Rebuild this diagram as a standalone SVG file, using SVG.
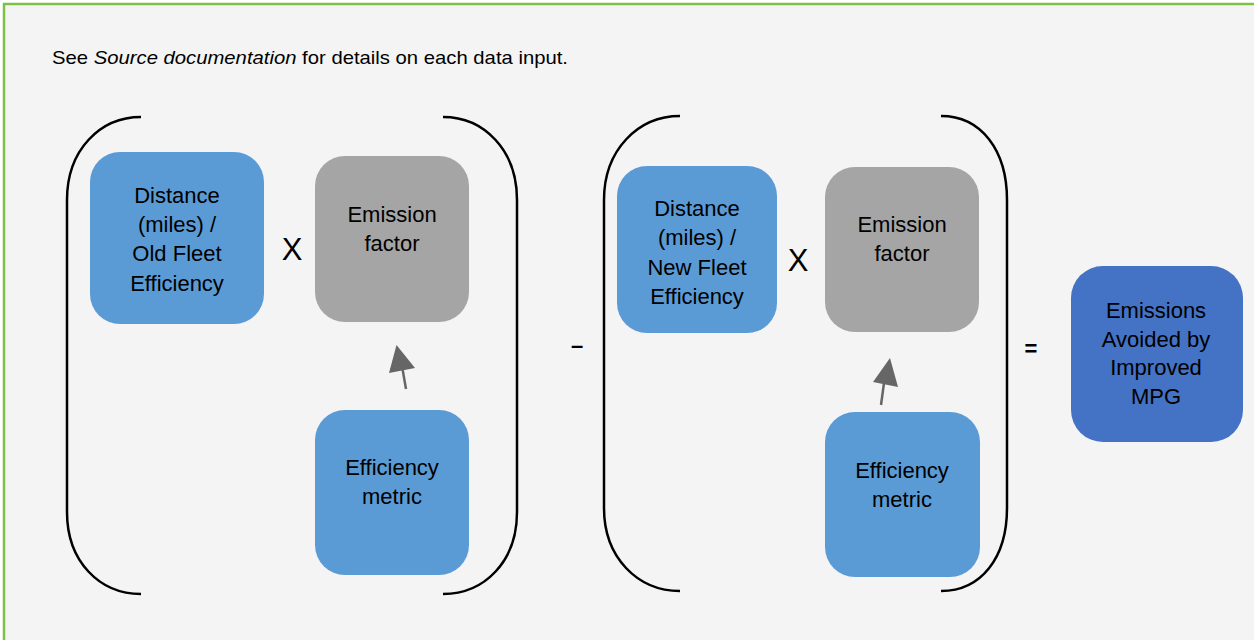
<svg xmlns="http://www.w3.org/2000/svg" width="1254" height="640" viewBox="0 0 1254 640">
<defs>
<style>
.bg{fill:#F4F4F4;stroke:#7DC242;stroke-width:2.5}
.blue{fill:#5B9BD5}
.gray{fill:#A5A5A5}
.dark{fill:#4472C4}
.t{font-family:"Liberation Sans",Arial,sans-serif;font-size:22px;fill:#000;text-anchor:middle}
.op{font-family:"Liberation Sans",Arial,sans-serif;fill:#000;text-anchor:middle}
.br{fill:none;stroke:#000;stroke-width:2.5}
.arr{stroke:#666;stroke-width:2.5;fill:none}
.head{fill:#666}
</style>
</defs>
<rect x="0" y="0" width="1254" height="640" fill="#FFFFFF"/>
<rect class="bg" x="4" y="4" width="1270" height="660"/>
<text x="52" y="64" font-family="Liberation Sans, Arial, sans-serif" font-size="19" fill="#000" textLength="516" lengthAdjust="spacingAndGlyphs">See <tspan font-style="italic">Source documentation</tspan> for details on each data input.</text>

<g id="brackets">
<path class="br" d="M141,117 C100,117 67,150 67,200 L67,512 C67,562 100,594 141,594"/>
<path class="br" d="M443,117 C484,117 517,150 517,200 L517,512 C517,562 484,594 443,594"/>
<path class="br" d="M680,116 C638,116 604,150 604,200 L604,508 C604,558 638,591 680,591"/>
<path class="br" d="M941,116 C981,116 1007,150 1007,200 L1007,508 C1007,558 981,591 941,591"/>
</g>

<g id="node-distance-old">
<rect class="blue" x="90" y="152" width="174" height="172" rx="30"/>
<text class="t" x="177" y="203">Distance</text>
<text class="t" x="177" y="232">(miles) /</text>
<text class="t" x="177" y="261">Old Fleet</text>
<text class="t" x="177" y="291">Efficiency</text>
</g>
<g id="node-emission-1">
<rect class="gray" x="315" y="156" width="154" height="166" rx="30"/>
<text class="t" x="392" y="222">Emission</text>
<text class="t" x="392" y="251">factor</text>
</g>
<g id="node-metric-1">
<rect class="blue" x="315" y="410" width="154" height="165" rx="30"/>
<text class="t" x="392" y="475">Efficiency</text>
<text class="t" x="392" y="504">metric</text>
</g>
<g id="node-distance-new">
<rect class="blue" x="617" y="166" width="160" height="167" rx="30"/>
<text class="t" x="697" y="216">Distance</text>
<text class="t" x="697" y="245">(miles) /</text>
<text class="t" x="697" y="275">New Fleet</text>
<text class="t" x="697" y="304">Efficiency</text>
</g>
<g id="node-emission-2">
<rect class="gray" x="825" y="167" width="154" height="165" rx="30"/>
<text class="t" x="902" y="232">Emission</text>
<text class="t" x="902" y="261">factor</text>
</g>
<g id="node-metric-2">
<rect class="blue" x="825" y="412" width="155" height="165" rx="30"/>
<text class="t" x="902" y="478">Efficiency</text>
<text class="t" x="902" y="507">metric</text>
</g>
<g id="node-result">
<rect class="dark" x="1071" y="266" width="172" height="176" rx="32"/>
<text class="t" x="1156" y="318">Emissions</text>
<text class="t" x="1156" y="347">Avoided by</text>
<text class="t" x="1156" y="375">Improved</text>
<text class="t" x="1156" y="404">MPG</text>
</g>

<g id="operators">
<text class="op" x="292" y="260" font-size="31">X</text>
<text class="op" x="798" y="271" font-size="31">X</text>
<text class="op" x="577" y="353" font-size="22" font-weight="bold">–</text>
<text class="op" x="1031" y="356" font-size="22" font-weight="bold">=</text>
</g>

<g id="connectors">
<line class="arr" x1="406" y1="389" x2="402.5" y2="369"/>
<polygon class="head" points="396.5,345 389,373 415,368"/>
<line class="arr" x1="881" y1="405" x2="884" y2="383"/>
<polygon class="head" points="890,358 873,382 898,387"/>
</g>
</svg>
